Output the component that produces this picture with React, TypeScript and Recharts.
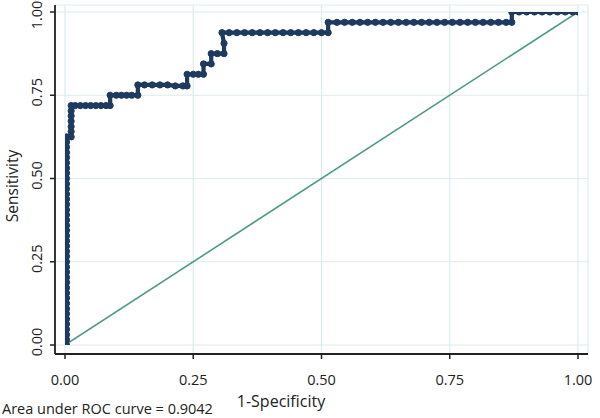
import React from 'react';
import { LineChart, Line, XAxis, YAxis, CartesianGrid } from 'recharts';

// ROC curve points: [1 - specificity, sensitivity]
const rocCurve: [number, number][] = [
  [0.003, 0], [0.003, 0.016], [0.003, 0.031], [0.003, 0.047], [0.003, 0.063], [0.003, 0.078],
  [0.003, 0.094], [0.003, 0.109], [0.003, 0.125], [0.003, 0.141], [0.003, 0.156], [0.003, 0.172],
  [0.003, 0.188], [0.003, 0.203], [0.003, 0.219], [0.003, 0.234], [0.003, 0.25], [0.003, 0.266],
  [0.003, 0.281], [0.003, 0.297], [0.003, 0.313], [0.003, 0.328], [0.003, 0.344], [0.003, 0.359],
  [0.003, 0.375], [0.003, 0.391], [0.003, 0.406], [0.003, 0.422], [0.003, 0.438], [0.003, 0.453],
  [0.003, 0.469], [0.003, 0.484], [0.003, 0.5], [0.003, 0.516], [0.003, 0.531], [0.003, 0.547],
  [0.003, 0.563], [0.003, 0.578], [0.003, 0.594], [0.003, 0.609], [0.003, 0.625],
  [0.012, 0.625], [0.012, 0.641], [0.012, 0.656], [0.012, 0.672], [0.012, 0.688], [0.012, 0.703],
  [0.012, 0.719], [0.02, 0.719], [0.03, 0.719], [0.04, 0.719], [0.05, 0.719], [0.06, 0.719],
  [0.07, 0.719], [0.08, 0.719], [0.088, 0.719],
  [0.088, 0.75], [0.1, 0.75], [0.11, 0.75], [0.12, 0.75], [0.13, 0.75], [0.142, 0.75],
  [0.142, 0.781], [0.155, 0.781], [0.17, 0.781], [0.185, 0.781], [0.2, 0.781], [0.215, 0.778],
  [0.23, 0.778], [0.238, 0.778],
  [0.238, 0.813], [0.25, 0.813], [0.26, 0.813], [0.27, 0.813],
  [0.27, 0.844], [0.285, 0.844],
  [0.285, 0.875], [0.297, 0.875], [0.31, 0.875],
  [0.31, 0.906],
  [0.306, 0.938], [0.32, 0.938], [0.335, 0.938], [0.35, 0.938], [0.365, 0.938], [0.38, 0.938],
  [0.395, 0.938], [0.41, 0.938], [0.425, 0.938], [0.44, 0.938], [0.455, 0.938], [0.47, 0.938],
  [0.485, 0.938], [0.5, 0.938], [0.513, 0.938],
  [0.513, 0.969], [0.53, 0.969], [0.545, 0.969], [0.56, 0.969], [0.575, 0.969], [0.59, 0.969],
  [0.605, 0.969], [0.62, 0.969], [0.635, 0.969], [0.65, 0.969], [0.665, 0.969], [0.68, 0.969],
  [0.695, 0.969], [0.71, 0.969], [0.725, 0.969], [0.74, 0.969], [0.755, 0.969], [0.77, 0.969],
  [0.785, 0.969], [0.8, 0.969], [0.815, 0.969], [0.83, 0.969], [0.845, 0.969], [0.86, 0.969],
  [0.871, 0.969],
  [0.871, 1], [0.885, 1], [0.9, 1], [0.915, 1], [0.93, 1], [0.945, 1], [0.96, 1], [0.975, 1],
  [0.99, 1], [1, 1],
];

// Reference (chance) line
const diagonal: [number, number][] = [[0, 0], [1, 1]];

const axisTicks = [0, 0.25, 0.5, 0.75, 1];
const tickLabels = ['0.00', '0.25', '0.50', '0.75', '1.00'];
const xTitle = '1-Specificity';
const yTitle = 'Sensitivity';
const aucNote = 'Area under ROC curve = 0.9042';

const FONT = '"Open Sans", sans-serif';
const NAVY = '#1e3a5f';
const TEAL = '#4f9a86';
const AXIS = '#222';

const rocData = rocCurve.map(([x, y]) => ({ x, y }));
const diagData = diagonal.map(([x, y]) => ({ x, y }));

const fmt = (v: number) => tickLabels[axisTicks.indexOf(v)] ?? String(v);

const XTick = (props: any) => {
  const { x, y, payload } = props;
  return (
    <text x={x} y={y} dy={24} textAnchor="middle" fontFamily={FONT} fontSize={14.5} fill="#222">
      {fmt(payload.value)}
    </text>
  );
};

const YTick = (props: any) => {
  const { y, payload } = props;
  // keep the top label inside the picture
  const cy = Math.max(y - 3, 15);
  return (
    <text
      x={0}
      y={0}
      transform={`translate(42, ${cy}) rotate(-90)`}
      textAnchor="middle"
      fontFamily={FONT}
      fontSize={14.5}
      fill="#222"
    >
      {fmt(payload.value)}
    </text>
  );
};

export default function App() {
  return (
    <div style={{ position: 'absolute', left: 0, top: 0, width: 600, height: 418, background: '#fff' }}>
      <LineChart width={600} height={418} margin={{ top: 5, right: 12, bottom: 34, left: 0 }}>
        <CartesianGrid stroke="#dcebef" strokeWidth={1.2} />
        <XAxis
          type="number"
          dataKey="x"
          domain={[0, 1]}
          ticks={axisTicks}
          padding={{ left: 10, right: 10 }}
          height={30}
          tickSize={5}
          axisLine={{ stroke: AXIS, strokeWidth: 1.8 }}
          tickLine={{ stroke: AXIS, strokeWidth: 1.5 }}
          tick={<XTick />}
          allowDataOverflow
        />
        <YAxis
          type="number"
          dataKey="y"
          domain={[0, 1]}
          ticks={axisTicks}
          padding={{ top: 7, bottom: 9 }}
          width={55}
          tickSize={5}
          axisLine={{ stroke: AXIS, strokeWidth: 1.8 }}
          tickLine={{ stroke: AXIS, strokeWidth: 1.5 }}
          tick={<YTick />}
          allowDataOverflow
        />
        <Line
          data={diagData}
          dataKey="y"
          type="linear"
          stroke={TEAL}
          strokeWidth={1.6}
          dot={false}
          isAnimationActive={false}
        />
        <Line
          data={rocData}
          dataKey="y"
          type="linear"
          stroke={NAVY}
          strokeWidth={4.2}
          dot={{ r: 3.1, fill: NAVY, stroke: NAVY, strokeWidth: 1 }}
          isAnimationActive={false}
        />
      </LineChart>
      <svg
        width={600}
        height={418}
        style={{ position: 'absolute', left: 0, top: 0, pointerEvents: 'none' }}
      >
        <text x={281} y={407} textAnchor="middle" fontFamily={FONT} fontSize={16} fill="#222">
          {xTitle}
        </text>
        <text x={2} y={414} textAnchor="start" fontFamily={FONT} fontSize={14.5} fill="#222">
          {aucNote}
        </text>
        <text
          x={0}
          y={0}
          transform="translate(18, 186) rotate(-90)"
          textAnchor="middle"
          fontFamily={FONT}
          fontSize={15.5}
          fill="#222"
        >
          {yTitle}
        </text>
      </svg>
    </div>
  );
}
